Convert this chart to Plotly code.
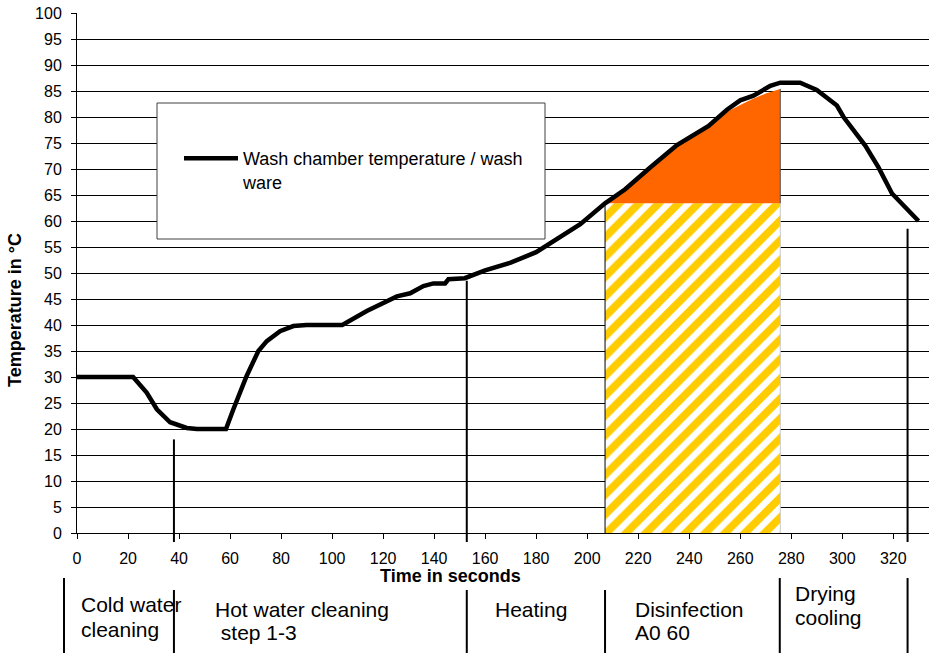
import plotly.graph_objects as go

# ---- data ----
time_s = [0, 22, 27.3, 31.3, 36.5, 43, 47, 58.4, 61.3, 66.5, 71.1, 74.4, 79.6, 84.8, 90, 104,
          113.6, 125.4, 130.6, 135.8, 139.7, 144.3, 145.6, 152, 160, 170, 180, 190, 197.3, 207,
          214.9, 224.7, 235.2, 247.6, 254.8, 260, 265.2, 271.8, 275.7, 283.5, 290, 297.9, 300.5,
          309, 314.2, 319.5, 329.9]
temp_c = [30, 30, 27, 23.8, 21.3, 20.2, 20, 20, 23.8, 30.2, 35, 36.9, 38.8, 39.8, 40, 40,
          42.7, 45.5, 46.1, 47.5, 48, 48, 48.8, 49, 50.5, 52, 54, 57, 59.4, 63.4,
          66.1, 70.3, 74.6, 78.3, 81.4, 83.2, 84.1, 86.0, 86.6, 86.6, 85.2, 82.2, 80.0,
          74.5, 70.3, 65.3, 60.0]

# disinfection window (A0 60)
disinf_start = 207
disinf_end = 275.7
disinf_level = 63.4
disinf_t = [207, 215, 225, 235, 247.6, 254.8, 260, 265, 270, 275.7]
disinf_top = [63.4, 66.0, 70.2, 74.5, 78.2, 81.0, 82.3, 83.5, 84.5, 85.4]

# phase markers on the curve
marker_t = [38, 152.8, 325.6]
marker_top = [18, 48.5, 58.5]
# phase box separators (seconds)
sep_t = [-5.1, 38, 152.8, 207, 275.5, 325.6]
sep_tall = [True, False, False, False, True, True]

phase_lines = [["Cold water", "cleaning"], ["Hot water cleaning", " step 1-3"], ["Heating"],
               ["Disinfection", "A0 60"], ["Drying", "cooling"]]

x_ticks = list(range(0, 321, 20))
y_ticks = list(range(0, 101, 5))

XMAX = 334
YMAX = 100
FONT = "Liberation Sans, Arial, sans-serif"

W, H = 935, 653
ML, MR, MT, MB = 77, 6, 13, 120
PW = W - ML - MR
PH = H - MT - MB


def px_x(p):
    return (p - ML) / PW


def px_y(p):
    return (H - MB - p) / PH


fig = go.Figure()

# hatched disinfection base
fig.add_trace(go.Scatter(
    x=[disinf_start, disinf_end, disinf_end, disinf_start],
    y=[0, 0, disinf_level, disinf_level],
    fill="toself", mode="none", fillcolor="white",
    fillpattern=dict(shape="/", fgcolor="#FFCC00", fgopacity=1, bgcolor="white",
                     size=14, solidity=0.55),
    showlegend=False, hoverinfo="skip"))

# orange area above the level
fig.add_trace(go.Scatter(
    x=disinf_t + [disinf_end],
    y=disinf_top + [disinf_level],
    fill="toself", mode="none", fillcolor="#FF6600",
    showlegend=False, hoverinfo="skip"))

# temperature curve
fig.add_trace(go.Scatter(
    x=time_s, y=temp_c, mode="lines",
    line=dict(color="black", width=4.5),
    name="Wash chamber temperature / wash<br>ware"))

shapes = []
# legend box
shapes.append(dict(type="rect", xref="paper", yref="paper",
                   x0=px_x(157), x1=px_x(545), y0=px_y(239), y1=px_y(103),
                   line=dict(color="#404040", width=1), fillcolor="white", layer="above"))
# hatch edges
shapes.append(dict(type="line", xref="x", yref="y", x0=disinf_start, x1=disinf_start,
                   y0=0, y1=disinf_level, line=dict(color="black", width=1)))
shapes.append(dict(type="line", xref="x", yref="y", x0=disinf_end, x1=disinf_end,
                   y0=0, y1=disinf_level, line=dict(color="#c8c8c8", width=1)))
shapes.append(dict(type="line", xref="x", yref="y", x0=disinf_end, x1=disinf_end,
                   y0=disinf_level, y1=disinf_top[-1], line=dict(color="#505050", width=1)))

# marker lines from the curve down below the axis
for t, top in zip(marker_t, marker_top):
    shapes.append(dict(type="line", xref="paper", yref="paper", x0=t / XMAX, x1=t / XMAX,
                       y0=top / YMAX, y1=px_y(542), line=dict(color="black", width=2)))
# phase box separators
for t, tall in zip(sep_t, sep_tall):
    shapes.append(dict(type="line", xref="paper", yref="paper", x0=t / XMAX, x1=t / XMAX,
                       y0=px_y(578 if tall else 590), y1=px_y(653),
                       line=dict(color="black", width=2)))

annotations = []
# axis titles
annotations.append(dict(text="<b>Time in seconds</b>", xref="paper", yref="paper",
                        x=px_x(450), y=px_y(576), xanchor="center", yanchor="middle",
                        showarrow=False, font=dict(family=FONT, size=18, color="black")))
annotations.append(dict(text="<b>Temperature in °C</b>", xref="paper", yref="paper",
                        x=px_x(15), y=px_y(310), xanchor="center", yanchor="middle",
                        textangle=-90, showarrow=False,
                        font=dict(family=FONT, size=18, color="black")))

# phase labels (left x pixel, centre y pixel of each line)
label_pos = [(79, [604.3, 629.3]), (213, [609.3, 632]), (493, [609.3]),
             (633, [609.3, 632]), (793, [593.6, 617])]
for lines, (lx, ys) in zip(phase_lines, label_pos):
    for txt, ly in zip(lines, ys):
        annotations.append(dict(text=txt, xref="paper", yref="paper",
                                x=px_x(lx), y=px_y(ly), xanchor="left", yanchor="middle",
                                showarrow=False,
                                font=dict(family=FONT, size=21, color="black")))

fig.update_layout(
    width=W, height=H,
    margin=dict(l=ML, r=MR, t=MT, b=MB),
    paper_bgcolor="white", plot_bgcolor="white",
    font=dict(family=FONT, color="black"),
    shapes=shapes, annotations=annotations,
    showlegend=True,
    legend=dict(x=px_x(179), y=px_y(140), xanchor="left", yanchor="top",
                bgcolor="rgba(0,0,0,0)", borderwidth=0, valign="top", itemwidth=54,
                font=dict(family=FONT, size=18, color="black")),
    xaxis=dict(range=[0, XMAX], tickvals=x_ticks, ticks="outside", ticklen=5,
               tickcolor="black", showline=True, linecolor="black", linewidth=1,
               showgrid=False, zeroline=False, ticklabelstandoff=6,
               tickfont=dict(family=FONT, size=16, color="black")),
    yaxis=dict(range=[0, YMAX], tickvals=y_ticks, ticks="outside", ticklen=5,
               tickcolor="black", showline=True, linecolor="black", linewidth=1,
               showgrid=True, gridcolor="black", gridwidth=1, zeroline=False,
               ticklabelstandoff=6,
               tickfont=dict(family=FONT, size=16, color="black")),
)

# remove the default 8px page margin so the figure fills the window exactly
fig.write_html("out.html", config={"displayModeBar": False},
               post_script="document.body.style.margin='0px';")
